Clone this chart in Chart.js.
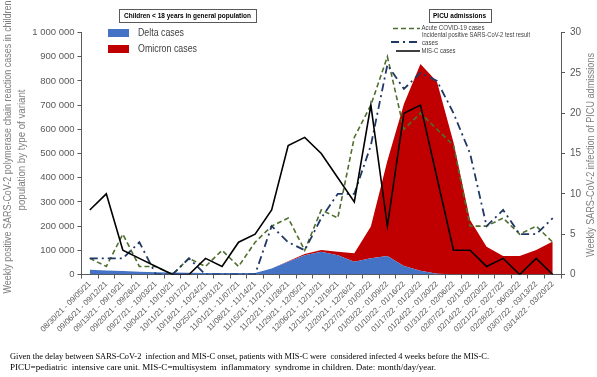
<!DOCTYPE html>
<html>
<head>
<meta charset="utf-8">
<script src="https://cdn.jsdelivr.net/npm/chart.js@4"></script>
<style>
    html, body { margin: 0; padding: 0; background: #fff; }
</style>
</head>
<body>
<canvas id="picuChart" width="597" height="377"></canvas>
<script>
const weeks = [
    '08/30/21 - 09/05/21', '09/06/21 - 09/12/21', '09/13/21 - 09/19/21', '09/20/21 - 09/26/21',
    '09/27/21 - 10/03/21', '10/04/21 - 10/10/21', '10/11/21 - 10/17/21', '10/18/21 - 10/24/21',
    '10/25/21 - 10/31/21', '11/01/21 - 11/07/21', '11/08/21 - 11/14/21', '11/15/21 - 11/21/21',
    '11/22/21 - 11/28/21', '11/29/21 - 12/05/21', '12/06/21 - 12/12/21', '12/13/21 - 12/19/21',
    '12/20/21 - 12/26/21', '12/27/21 - 01/02/22', '01/03/22 - 01/09/22', '01/10/22 - 01/16/22',
    '01/17/22 - 01/23/22', '01/24/22 - 01/30/22', '01/31/22 - 02/06/22', '02/07/22 - 02/13/22',
    '02/14/22 - 02/20/22', '02/21/22 - 02/27/22', '02/28/22 - 06/03/22', '03/07/22 - 03/13/22',
    '03/14/22 - 03/20/22'
];

// PCR cases in children (left axis), stacked
const deltaCases = [20000, 17000, 14000, 11000, 9000, 8000, 7000, 6000, 6000, 6000, 6000, 25000, 53000, 80000,
    94000, 80000, 53000, 67000, 76000, 35000, 16000, 3000, 1000, 0, 0, 0, 0, 0, 0];
const omicronCases = [0, 0, 0, 0, 0, 0, 0, 0, 0, 0, 0, 0, 2000, 5000, 7000, 14000, 35000, 131000, 394000,
    670000, 854000, 794000, 544000, 225000, 115000, 76000, 76000, 101000, 136000];

// PICU admissions (right axis)
const acuteCovid = [2, 1, 5, 1, 1, 0, 2, 1, 3, 1, 4, 6, 7, 3, 8, 7, 17, 21, 27, 18, 20, 18, 16, 6, 6, 7, 5, 6, 4];
const incidentalPositive = [2, 2, 2, 4, 0, 0, 2, 0, 0, 0, 0, 6, 4, 3, 7, 10, 10, 16, 26, 23, 25, 24, 20, 15, 6, 8, 5, 5, 7];
const misC = [8, 10, 3, 2, 1, 0, 0, 2, 1, 4, 5, 8, 16, 17, 15, 12, 9, 21, 6, 20, 21, 12, 3, 3, 1, 2, 0, 2, 0];

const leftTitle = ['Weekly positive SARS-CoV-2 polymerase chain reaction cases in children',
    'population by type of variant'];
const rightTitle = 'Weekly SARS-CoV-2 infection of PICU admissions';
const footnote = [
    'Given the delay between SARS-CoV-2  infection and MIS-C onset, patients with MIS-C were  considered infected 4 weeks before the MIS-C.',
    'PICU=pediatric  intensive care unit. MIS-C=multisystem  inflammatory  syndrome in children. Date: month/day/year.'
];

const sans = '"Liberation Sans", Arial, sans-serif';
const axisColor = '#595959';
const tickColor = '#595959';

function spaced(v) {
    return String(Math.round(v)).replace(/\B(?=(\d{3})+(?!\d))/g, ' ');
}

// draws text squeezed/stretched to a given width
function fitText(c, text, x, y, width) {
    const w = c.measureText(text).width;
    c.save();
    c.translate(x, y);
    c.scale(width / w, 1);
    c.fillText(text, 0, 0);
    c.restore();
}

function rotatedText(c, text, x, y, width) {
    c.save();
    c.translate(x, y);
    c.rotate(-Math.PI / 2);
    c.textAlign = 'left';
    fitText(c, text, -width / 2, 0, width);
    c.restore();
}

const decor = {
    id: 'decor',
    afterDraw(chart) {
        const c = chart.ctx;
        c.save();
        c.textBaseline = 'middle';

        // axis titles
        c.fillStyle = '#7f7f7f';
        c.font = '10px ' + sans;
        rotatedText(c, leftTitle[0], 8, 147, 293);
        rotatedText(c, leftTitle[1], 22, 150, 121);
        rotatedText(c, rightTitle, 591, 155, 204);

        // header boxes
        c.strokeStyle = '#595959';
        c.lineWidth = 1;
        c.strokeRect(119.5, 9.5, 137, 13);
        c.strokeRect(429.5, 9.5, 62, 13);
        c.fillStyle = '#000';
        c.font = 'bold 6.5px ' + sans;
        c.textAlign = 'left';
        fitText(c, 'Children < 18 years in general population', 124, 16, 127);
        fitText(c, 'PICU admissions', 433, 16, 53);

        // variant legend
        c.fillStyle = '#4472C4';
        c.fillRect(108, 29, 21, 8);
        c.fillStyle = '#C00000';
        c.fillRect(108, 45, 21, 8);
        c.fillStyle = '#404040';
        c.font = '10px ' + sans;
        fitText(c, 'Delta cases', 138, 33, 46);
        fitText(c, 'Omicron cases', 138, 49, 59);

        // PICU legend
        const sample = (y, x0, color, dash, lw) => {
            c.beginPath();
            c.setLineDash(dash);
            c.strokeStyle = color;
            c.lineWidth = lw;
            c.moveTo(x0, y);
            c.lineTo(420, y);
            c.stroke();
            c.setLineDash([]);
        };
        sample(28.5, 393, '#4f6f2f', [5, 3], 1.6);
        sample(42, 391, '#203864', [8, 4, 2, 4], 1.8);
        sample(51, 396, '#000', [], 1.5);
        c.fillStyle = '#404040';
        c.font = '6.5px ' + sans;
        fitText(c, 'Acute COVID-19 cases', 421.5, 28.5, 63);
        fitText(c, 'Incidental positive SARS-CoV-2 test result', 422, 35, 108);
        fitText(c, 'cases', 422, 43, 16);
        fitText(c, 'MIS-C cases', 421.5, 51, 34);

        // footnote
        c.fillStyle = '#000';
        c.font = '8.5px "Liberation Serif", "Times New Roman", serif';
        fitText(c, footnote[0], 10, 356.5, 479);
        fitText(c, footnote[1], 10, 368, 426);
        c.restore();
    }
};

const ctx = document.getElementById('picuChart').getContext('2d');
new Chart(ctx, {
    type: 'line',
    data: {
        labels: weeks,
        datasets: [
            {
                label: 'Delta cases',
                data: deltaCases,
                yAxisID: 'y',
                backgroundColor: '#4472C4',
                borderColor: '#4472C4',
                borderWidth: 0,
                fill: 'origin',
                order: 4
            },
            {
                label: 'Omicron cases',
                data: omicronCases,
                yAxisID: 'y',
                backgroundColor: '#C00000',
                borderColor: '#C00000',
                borderWidth: 0,
                fill: '-1',
                order: 5
            },
            {
                label: 'Acute COVID-19 cases',
                data: acuteCovid,
                yAxisID: 'y1',
                borderColor: '#4f6f2f',
                borderDash: [5, 3],
                borderWidth: 1.6,
                fill: false,
                order: 2
            },
            {
                label: 'Incidental positive SARS-CoV-2 test result cases',
                data: incidentalPositive,
                yAxisID: 'y1',
                borderColor: '#203864',
                borderDash: [8, 4, 2, 4],
                borderWidth: 1.8,
                fill: false,
                order: 1
            },
            {
                label: 'MIS-C cases',
                data: misC,
                yAxisID: 'y1',
                borderColor: '#000000',
                borderWidth: 1.6,
                fill: false,
                order: 0
            }
        ]
    },
    options: {
        responsive: false,
        animation: false,
        layout: { padding: { left: 0, right: 0, top: 32.5, bottom: 0 } },
        elements: { line: { tension: 0 }, point: { radius: 0 } },
        plugins: {
            legend: { display: false },
            tooltip: { enabled: false }
        },
        scales: {
            x: {
                offset: true,
                grid: { offset: true, drawOnChartArea: false, tickLength: 4, color: axisColor },
                border: { color: axisColor },
                ticks: {
                    autoSkip: false,
                    minRotation: 45,
                    maxRotation: 45,
                    padding: 1,
                    color: tickColor,
                    font: { size: 7.8, family: sans }
                },
                afterFit: s => { s.height = 102.5; }
            },
            y: {
                stacked: true,
                min: 0,
                max: 1000000,
                grid: { drawOnChartArea: false, tickLength: 4, color: axisColor },
                border: { color: axisColor },
                ticks: {
                    stepSize: 100000,
                    padding: 3,
                    color: tickColor,
                    font: { size: 9.5, family: sans },
                    callback: v => spaced(v)
                },
                afterFit: s => { s.width = 81.5; }
            },
            y1: {
                position: 'right',
                min: 0,
                max: 30,
                grid: { drawOnChartArea: false, tickLength: 4, color: axisColor },
                border: { color: axisColor },
                ticks: {
                    stepSize: 5,
                    padding: 5,
                    color: tickColor,
                    font: { size: 10, family: sans }
                },
                afterFit: s => { s.width = 36; }
            }
        }
    },
    plugins: [decor]
});
</script>
</body>
</html>
